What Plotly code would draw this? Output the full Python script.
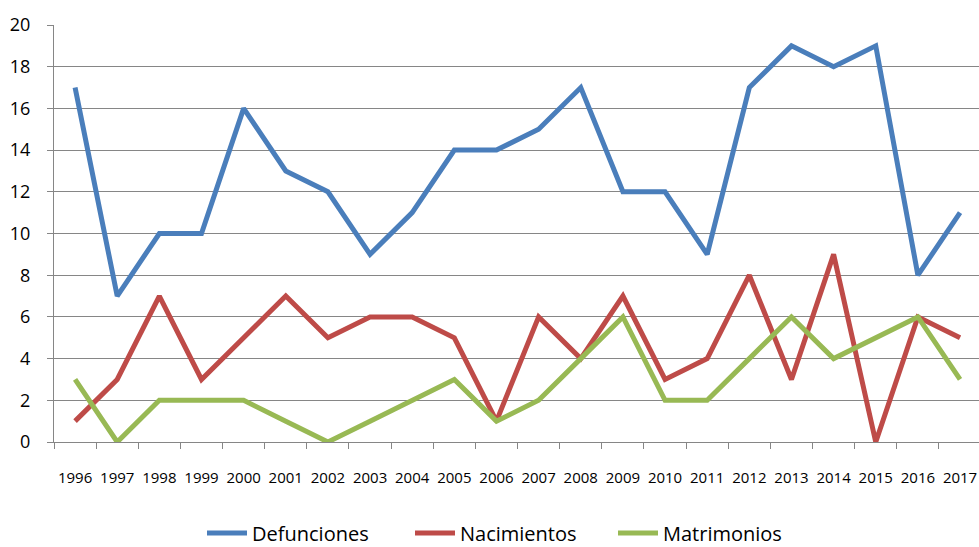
import plotly.graph_objects as go

years = [str(y) for y in range(1996, 2018)]
defunciones = [17, 7, 10, 10, 16, 13, 12, 9, 11, 14, 14, 15, 17, 12, 12, 9, 17, 19, 18, 19, 8, 11]
nacimientos = [1, 3, 7, 3, 5, 7, 5, 6, 6, 5, 1, 6, 4, 7, 3, 4, 8, 3, 9, 0, 6, 5]
matrimonios = [3, 0, 2, 2, 2, 1, 0, 1, 2, 3, 1, 2, 4, 6, 2, 2, 4, 6, 4, 5, 6, 3]

series = [
    ("Defunciones", defunciones, "#4A7EBB", "legend"),
    ("Nacimientos", nacimientos, "#BE4B48", "legend2"),
    ("Matrimonios", matrimonios, "#98B954", "legend3"),
]

fig = go.Figure()
for name, vals, color, lg in series:
    fig.add_trace(go.Scatter(x=years, y=vals, name=name, mode="lines",
                             line=dict(color=color, width=5), legend=lg))

W, H = 979, 547
ml, mt, mb, mr = 54, 25, 105, 0
pw = W - ml - mr
ph = H - mt - mb

def lx(px):
    return (px - ml) / pw

leg_y = (H - mb - 533) / ph
leg_common = dict(orientation="h", xanchor="left", y=leg_y, yanchor="middle",
                  font=dict(size=20), itemwidth=40, bgcolor="rgba(0,0,0,0)")

fig.update_layout(
    width=W, height=H,
    margin=dict(l=ml, r=mr, t=mt, b=mb, autoexpand=False),
    paper_bgcolor="white", plot_bgcolor="white",
    font=dict(family="Open Sans", color="#000000"),
    showlegend=True,
    legend=dict(x=lx(202), **leg_common),
    legend2=dict(x=lx(410), **leg_common),
    legend3=dict(x=lx(613), **leg_common),
)
fig.update_xaxes(
    type="category", range=[-0.5, 21.45], tickson="boundaries",
    ticks="outside", ticklen=6, tickcolor="#868686", tickangle=0,
    showline=True, linecolor="#868686", linewidth=1, automargin=False,
    showgrid=False, tickfont=dict(size=15), ticklabelstandoff=22,
)
fig.update_yaxes(
    range=[0, 20], dtick=2, tickmode="linear",
    ticks="outside", ticklen=6, tickcolor="#868686",
    showline=True, linecolor="#868686", linewidth=1, automargin=False,
    showgrid=True, gridcolor="#868686", gridwidth=1,
    tickfont=dict(size=18), ticklabelstandoff=13, zeroline=False,
)
fig.write_html(
    "out.html",
    config={"displayModeBar": False},
    post_script="document.body.style.margin='0';document.body.style.overflow='hidden';",
)
